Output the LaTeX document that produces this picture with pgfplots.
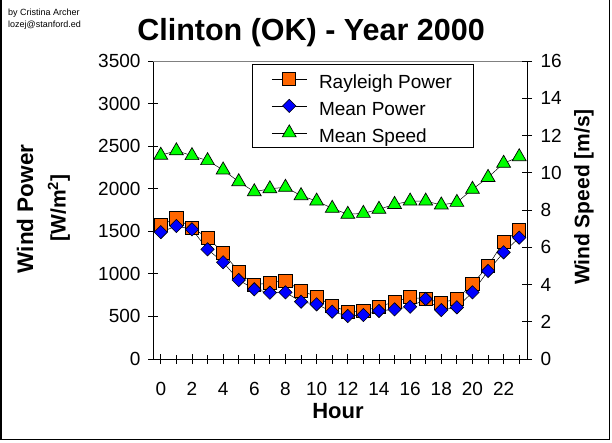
\documentclass[border=0pt]{standalone}
\usepackage{fontspec}
\setmainfont{Liberation Sans}
\usepackage{pgfplots}
\pgfplotsset{compat=1.18}
\definecolor{ror}{HTML}{FF6600}
\definecolor{mpb}{HTML}{0000FF}
\definecolor{msg}{HTML}{00FF00}
\pgfplotsset{
  raystyle/.style={black, line width=0.5pt, mark=square*, mark size=6.6pt, mark options={fill=ror, draw=black, line width=0.8pt}},
  mpstyle/.style={black, line width=0.5pt, mark=square*, mark size=4.7pt, mark options={rotate=45, fill=mpb, draw=black, line width=0.6pt}},
  msstyle/.style={black, line width=0.5pt, mark=triangle*, mark size=8pt, mark options={fill=msg, draw=black, line width=0.7pt}},
  common/.style={
    at={(153pt,83pt)}, anchor=south west, width=374pt, height=298pt, scale only axis,
    xmin=-0.5, xmax=23.5,
    tick align=center, major tick length=10pt, minor tick length=9pt,
    tick style={black, line width=0.8pt},
    axis line style={black, line width=0.8pt},
    tick label style={font=\fontsize{19}{19}\selectfont},
    /pgf/number format/assume math mode=true,
    /pgf/number format/1000 sep={},
    clip=false,
  }
}
\pgfplotstableread{
h ray mp ms
0 1574 1490 10.94
1 1652 1562 11.18
2 1542 1523 10.92
3 1425 1288 10.65
4 1249 1136 10.15
5 1025 928 9.52
6 869 819 8.98
7 896 779 9.14
8 920 783 9.22
9 802 673 8.77
10 732 642 8.48
11 626 556 8.09
12 556 505 7.77
13 564 517 7.82
14 614 564 8.04
15 673 583 8.30
16 725 614 8.48
17 705 705 8.48
18 661 575 8.27
19 705 607 8.41
20 881 783 9.11
21 1092 1034 9.75
22 1378 1253 10.51
23 1515 1425 10.86
}\datatable
\newcommand{\lstrut}{\rule[-9pt]{0pt}{30.5pt}}
\begin{document}
\begin{tikzpicture}[x=1pt,y=1pt]
\useasboundingbox (0,0) rectangle (612,442);
\fill[white] (0,0) rectangle (612,442);
\draw[line width=1.2pt] (1,442) -- (1,2.5) -- (609.5,2.5) -- (609.5,442);
\begin{axis}[common,
  ymin=0, ymax=3500,
  axis x line*=bottom, axis y line*=left,
  xtick={0,2,...,22}, minor xtick={1,3,...,23},
  ytick={0,500,...,3500},
  xticklabel style={yshift=-15pt},
  yticklabel style={xshift=-4pt},
]
\draw[gray, line width=0.8pt] (rel axis cs:0,1) -- (rel axis cs:1,1);
\addplot[raystyle] table[x=h, y=ray] {\datatable};
\addplot[mpstyle] table[x=h, y=mp] {\datatable};
\end{axis}
\begin{axis}[common,
  ymin=0, ymax=16,
  axis y line*=right, axis x line=none,
  ytick={0,2,...,16},
  yticklabel style={xshift=5pt},
  legend style={at={(0.265,0.99)}, anchor=north west, draw=black, line width=0.8pt,
    font=\fontsize{19}{19}\selectfont, inner xsep=19pt, inner ysep=1pt, row sep=0pt,
    /tikz/every odd column/.append style={column sep=10pt}},
  legend cell align=left,
  legend image code/.code={\draw[#1, mark repeat=2, mark phase=2] plot coordinates {(0pt,0pt) (17.5pt,0pt) (35pt,0pt)};},
]
\addlegendimage{raystyle}
\addlegendentry{\lstrut Rayleigh Power}
\addlegendimage{mpstyle}
\addlegendentry{\lstrut Mean Power}
\addplot[msstyle] table[x=h, y=ms] {\datatable};
\addlegendentry{\lstrut Mean Speed}
\end{axis}
\node[font=\fontsize{30.5}{30.5}\selectfont\bfseries] at (311,409) {Clinton (OK) - Year 2000};
\node[font=\fontsize{22}{22}\selectfont\bfseries] at (338,31) {Hour};
\node[font=\fontsize{22.5}{22.5}\selectfont\bfseries, rotate=90] at (25,233) {Wind Power};
\node[font=\fontsize{21}{21}\selectfont\bfseries, rotate=90] at (59,234) {[W/m$^{\mathbf{2}}$]};
\node[font=\fontsize{21}{21}\selectfont\bfseries, rotate=90] at (584,245) {Wind Speed [m/s]};
\node[font=\fontsize{9}{11.5}\selectfont, anchor=north west, align=left, inner sep=0pt] at (8,433) {by Cristina Archer\\lozej@stanford.ed};
\end{tikzpicture}
\end{document}
